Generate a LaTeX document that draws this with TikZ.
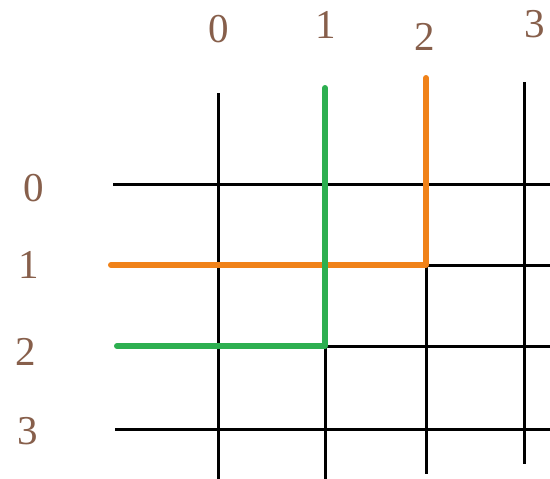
\documentclass[tikz,border=0pt]{standalone}
\usepackage{fontspec}
\setmainfont{Liberation Serif}
\definecolor{lblbrown}{RGB}{135,95,75}
\definecolor{pathorange}{RGB}{240,130,25}
\definecolor{pathgreen}{RGB}{45,175,80}
\tikzset{
  gridline/.style={black, line width=3pt},
  orangepath/.style={pathorange, line width=6pt, line cap=round, line join=round},
  greenpath/.style={pathgreen, line width=6pt, line cap=round, line join=round},
  lbl/.style={text=lblbrown, font=\fontsize{41}{44}\selectfont, inner sep=0pt}
}
\begin{document}
\begin{tikzpicture}[x=1pt,y=-1pt]
\useasboundingbox (0,0) rectangle (550,479);
\fill[white] (0,0) rectangle (550,479);
% column labels
\node[lbl] (c0) at (219,29) {0};
\node[lbl] (c1) at (326,25) {1};
\node[lbl] (c2) at (425,37) {2};
\node[lbl] (c3) at (535,24) {3};
% row labels
\node[lbl] (r0) at (34,188) {0};
\node[lbl] (r1) at (29,265) {1};
\node[lbl] (r2) at (26,352) {2};
\node[lbl] (r3) at (28,431) {3};
% grid coordinates
\coordinate (v0t) at (218,93);  \coordinate (v0b) at (218,479);
\coordinate (v1t) at (325,88);  \coordinate (v1b) at (325,479);
\coordinate (v2t) at (426,78);  \coordinate (v2b) at (426,474);
\coordinate (v3t) at (524,82);  \coordinate (v3b) at (524,464);
\coordinate (h0l) at (113,184); \coordinate (h0r) at (550,184);
\coordinate (h1l) at (111,265); \coordinate (h1r) at (550,265);
\coordinate (h2l) at (117,346); \coordinate (h2r) at (550,346);
\coordinate (h3l) at (115,429); \coordinate (h3r) at (550,429);
% black grid
\draw[gridline] (v0t) -- (v0b);
\draw[gridline] (v1t) -- (v1b);
\draw[gridline] (v2t) -- (v2b);
\draw[gridline] (v3t) -- (v3b);
\draw[gridline] (h0l) -- (h0r);
\draw[gridline] (h1l) -- (h1r);
\draw[gridline] (h2l) -- (h2r);
\draw[gridline] (h3l) -- (h3r);
% coloured paths
\coordinate (oc) at (426,265);
\coordinate (gc) at (325,346);
\draw[orangepath] (h1l) -- (oc) -- (v2t);
\draw[greenpath] (h2l) -- (gc) -- (v1t);
\end{tikzpicture}
\end{document}
